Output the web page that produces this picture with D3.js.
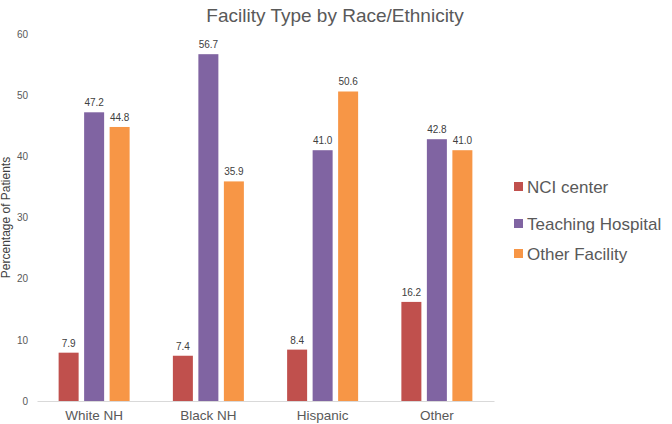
<!DOCTYPE html>
<html><head><meta charset="utf-8">
<script src="https://cdn.jsdelivr.net/npm/d3@7"></script>
<style>body{margin:0;background:#fff}svg{display:block;font-family:"Liberation Sans",Arial,sans-serif}</style>
</head><body><svg id="c" width="672" height="424"></svg>
<script>
const categories = ["White NH", "Black NH", "Hispanic", "Other"];
const seriesNames = ["NCI center", "Teaching Hospital", "Other Facility"];
const nciCenter = [7.9, 7.4, 8.4, 16.2];
const teachingHospital = [47.2, 56.7, 41.0, 42.8];
const otherFacility = [44.8, 35.9, 50.6, 41.0];
const yTicks = [0, 10, 20, 30, 40, 50, 60];
const colors = ["#C0504D", "#8064A2", "#F79646"];
const seriesValues = [nciCenter, teachingHospital, otherFacility];

(function () {
const svg = d3.select("#c");
const mLeft = 37, mRight = 494, mTop = 34, mBottom = 401;
const x = d3.scaleBand().domain(categories).range([mLeft, mRight]).paddingInner(0).paddingOuter(0);
const y = d3.scaleLinear().domain([0, 60]).range([mBottom, mTop]);
const barW = 20, gap = 5.5;
const groupW = barW * 3 + gap * 2;

svg.append("text").attr("x", 335).attr("y", 22).attr("text-anchor", "middle")
  .attr("font-size", 19).attr("fill", "#595959").text("Facility Type by Race/Ethnicity");

const yAxis = d3.axisLeft(y).tickValues(yTicks).tickSize(0).tickPadding(0).tickFormat(d3.format("d"));
const ga = svg.append("g").attr("transform", `translate(${mLeft - 9},0)`).call(yAxis);
ga.select(".domain").remove();
ga.selectAll("text").attr("font-size", 10).attr("fill", "#595959").attr("font-family", "Liberation Sans, Arial, sans-serif");

const xAxis = d3.axisBottom(x).tickSize(0).tickPadding(9);
const gx = svg.append("g").attr("transform", `translate(0,${mBottom})`).call(xAxis);
gx.select(".domain").attr("stroke", "#d9d9d9").attr("stroke-width", 1);
gx.selectAll("text").attr("font-size", 13.5).attr("fill", "#595959").attr("font-family", "Liberation Sans, Arial, sans-serif");

svg.append("text").attr("transform", `translate(10,${(mTop + mBottom) / 2}) rotate(-90)`)
  .attr("text-anchor", "middle").attr("font-size", 12).attr("fill", "#404040").text("Percentage of Patients");

seriesValues.forEach((vals, si) => {
  const g = svg.append("g");
  categories.forEach((cat, ci) => {
    const x0 = x(cat) + x.bandwidth() / 2 - groupW / 2 + si * (barW + gap);
    g.append("rect").attr("x", x0).attr("y", y(vals[ci])).attr("width", barW)
      .attr("height", y(0) - y(vals[ci])).attr("fill", colors[si]);
    g.append("text").attr("x", x0 + barW / 2).attr("y", y(vals[ci]) - 6)
      .attr("text-anchor", "middle").attr("font-size", 10).attr("fill", "#404040")
      .text(vals[ci].toFixed(1));
  });
});

const legY = [187, 224, 254];
seriesNames.forEach((n, i) => {
  svg.append("rect").attr("x", 514).attr("y", legY[i] - 5).attr("width", 9).attr("height", 9).attr("fill", colors[i]);
  svg.append("text").attr("x", 527).attr("y", legY[i] + 6).attr("font-size", 17).attr("fill", "#595959").text(n);
});
})();
</script></body></html>
